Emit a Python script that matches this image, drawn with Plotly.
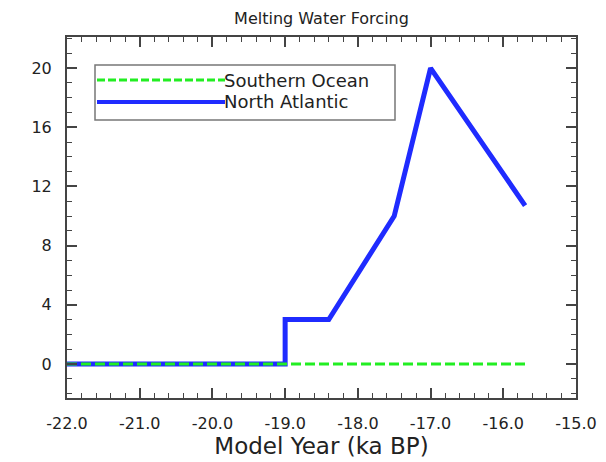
import plotly.graph_objects as go

# Data
na_x = [-22.0, -19.0, -19.0, -18.4, -17.5, -17.0, -15.7]
na_y = [0, 0, 3, 3, 10, 20, 10.7]
so_x = [-22.0, -15.7]
so_y = [0, 0]
series_names = ["Southern Ocean", "North Atlantic"]
x_ticks = [-22, -21, -20, -19, -18, -17, -16, -15]
x_labels = ["-22.0", "-21.0", "-20.0", "-19.0", "-18.0", "-17.0", "-16.0", "-15.0"]
y_ticks = [0, 4, 8, 12, 16, 20]

FONT = "DejaVu Sans, Liberation Sans, Arial"
fig = go.Figure()
fig.add_trace(go.Scatter(x=na_x, y=na_y, mode="lines", line=dict(color="#1f2bff", width=5),
                         name=series_names[1], showlegend=False))
fig.add_trace(go.Scatter(x=so_x, y=so_y, mode="lines", line=dict(color="#22ee22", width=3, dash="10px,4px"),
                         name=series_names[0], showlegend=False))

axis_common = dict(showgrid=False, zeroline=False, showline=True, linecolor="#444", linewidth=2,
                   mirror="allticks", ticks="inside", ticklen=10, tickwidth=1.5, tickcolor="#444",
                   ticklabelstandoff=10, automargin=False,
                   tickfont=dict(family=FONT, size=16, color="#222"))

fig.update_xaxes(range=[-22, -15], tickvals=x_ticks, ticktext=x_labels,
                 minor=dict(ticks="inside", dtick=0.2, ticklen=5, tickcolor="#444", tickwidth=1),
                 title=dict(text="Model Year (ka BP)", font=dict(family=FONT, size=23, color="#222"), standoff=4),
                 **axis_common)
fig.update_yaxes(range=[-2.3, 22.1], tickvals=y_ticks,
                 minor=dict(ticks="inside", dtick=1, ticklen=5, tickcolor="#444", tickwidth=1),
                 **axis_common)

# custom legend
lx0, lx1, ly0, ly1 = (95-67)/509, (395-67)/509, (398-120)/361, (398-65)/361
fig.add_shape(type="rect", xref="paper", yref="paper", x0=lx0, x1=lx1, y0=ly0, y1=ly1,
              line=dict(color="#777", width=1.5), fillcolor="white")
items = [(series_names[0], 80, "#22ee22", 3, "8px,3px"), (series_names[1], 102, "#1f2bff", 4, "solid")]
for name, py, col, w, d in items:
    yy = (398-py)/361
    fig.add_shape(type="line", xref="paper", yref="paper", x0=(97-67)/509, x1=(225-67)/509, y0=yy, y1=yy,
                  line=dict(color=col, width=w, dash=d))
    fig.add_annotation(xref="paper", yref="paper", x=(224-67)/509, y=yy, text=name, showarrow=False,
                       xanchor="left", yanchor="middle", xshift=-2,
                       font=dict(family=FONT, size=18, color="#222"))

fig.update_layout(width=606, height=462, margin=dict(l=67, r=30, t=37, b=64),
                  plot_bgcolor="white", paper_bgcolor="white",
                  title=dict(text="Melting Water Forcing", x=(67+576)/2/606, xanchor="center", y=1-18/462, yanchor="middle",
                             font=dict(family=FONT, size=16, color="#222")))

fig.write_html("out.html")
